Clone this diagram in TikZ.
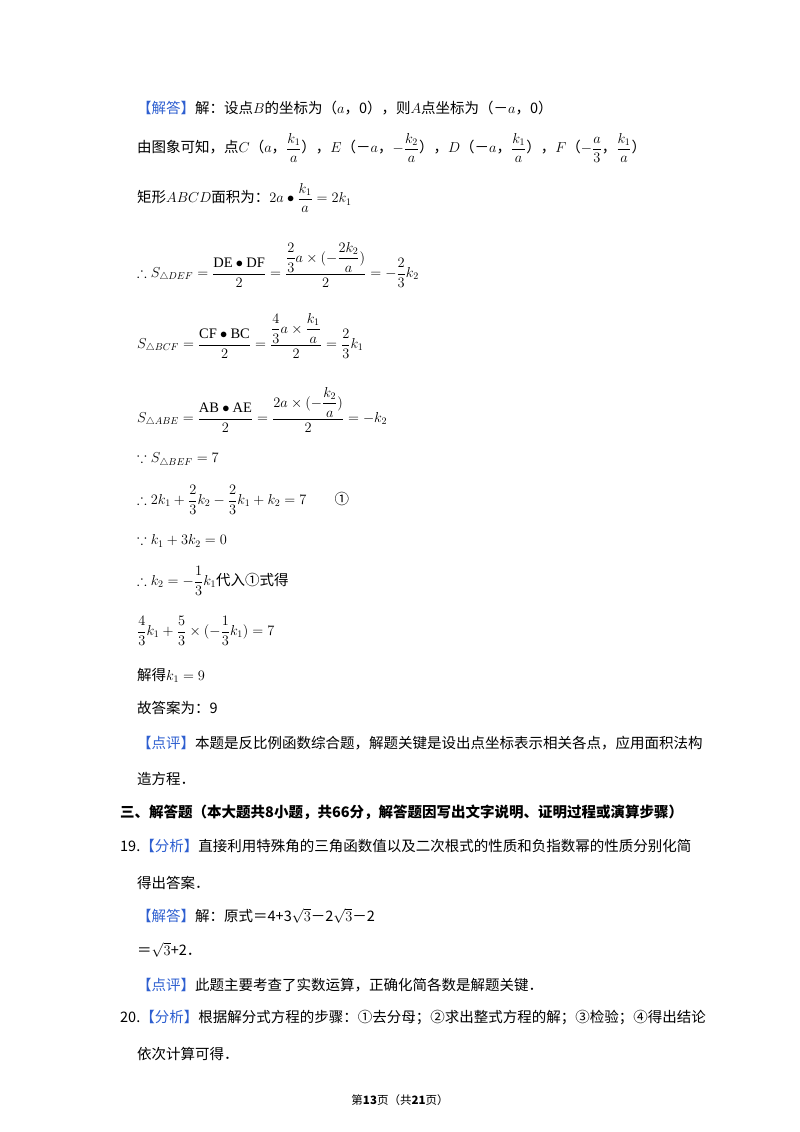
\documentclass[tikz,border=0pt]{standalone}
\usepackage{amsmath,amssymb}
\usepackage{fontspec}
\setmainfont{Liberation Serif}
\newfontfamily\cjk{Noto Sans CJK SC}
\definecolor{lb}{HTML}{2E5FD0}
\newcommand{\lab}[1]{{\color{lb}【#1】}}
\begin{document}
\begin{tikzpicture}[x=1pt,y=-1pt,
  t/.style={anchor=west,inner sep=0pt,font=\fontsize{14.5}{17}\cjk}]
\useasboundingbox (0,0) rectangle (800,1132);
\node[t] (l1) at (137,108) {\lab{解答}解：设点$B$的坐标为（$a$，0），则$A$点坐标为（－$a$，0）};
\node[t] (l2) at (137,148) {由图象可知，点$C$（$a$，$\dfrac{k_1}{a}$），$E$（－$a$，$-\dfrac{k_2}{a}$），$D$（－$a$，$\dfrac{k_1}{a}$），$F$（$-\dfrac{a}{3}$，$\dfrac{k_1}{a}$）};
\node[t] (l3) at (137,198) {矩形$ABCD$面积为：$2a\bullet\dfrac{k_1}{a}=2k_1$};
\node[t] (l4) at (137,265) {$\therefore S_{\triangle DEF}=\dfrac{\mathrm{DE}\bullet\mathrm{DF}}{2}=\dfrac{\dfrac{2}{3}a\times(-\dfrac{2k_2}{a})}{2}=-\dfrac{2}{3}k_2$};
\node[t] (l5) at (137,336) {$S_{\triangle BCF}=\dfrac{\mathrm{CF}\bullet\mathrm{BC}}{2}=\dfrac{\dfrac{4}{3}a\times\dfrac{k_1}{a}}{2}=\dfrac{2}{3}k_1$};
\node[t] (l6) at (137,410) {$S_{\triangle ABE}=\dfrac{\mathrm{AB}\bullet\mathrm{AE}}{2}=\dfrac{2a\times(-\dfrac{k_2}{a})}{2}=-k_2$};
\node[t] (l7) at (137,460) {$\because S_{\triangle BEF}=7$};
\node[t] (l8) at (137,500) {$\therefore 2k_1+\dfrac{2}{3}k_2-\dfrac{2}{3}k_1+k_2=7$\hspace{28pt}①};
\node[t] (l9) at (137,541) {$\because k_1+3k_2=0$};
\node[t] (l10) at (137,581) {$\therefore k_2=-\dfrac{1}{3}k_1$代入①式得};
\node[t] (l11) at (137,631) {$\dfrac{4}{3}k_1+\dfrac{5}{3}\times(-\dfrac{1}{3}k_1)=7$};
\node[t] (l12) at (137,675) {解得$k_1=9$};
\node[t] (l13) at (137,708) {故答案为：9};
\node[t] (l14) at (137,743) {\lab{点评}本题是反比例函数综合题，解题关键是设出点坐标表示相关各点，应用面积法构};
\node[t] (l15) at (137,779) {造方程．};
\node[t,font=\fontsize{14.5}{17}\cjk\bfseries] (l16) at (120,812) {三、解答题（本大题共8小题，共66分，解答题因写出文字说明、证明过程或演算步骤）};
\node[t] (l17) at (120,846) {19.\lab{分析}直接利用特殊角的三角函数值以及二次根式的性质和负指数幂的性质分别化简};
\node[t] (l18) at (137,883) {得出答案．};
\node[t] (l19) at (137,916) {\lab{解答}解：原式＝4+3$\sqrt{3}$－2$\sqrt{3}$－2};
\node[t] (l20) at (137,950) {＝$\sqrt{3}$+2．};
\node[t] (l21) at (137,985) {\lab{点评}此题主要考查了实数运算，正确化简各数是解题关键．};
\node[t] (l22) at (120,1018) {20.\lab{分析}根据解分式方程的步骤：①去分母；②求出整式方程的解；③检验；④得出结论};
\node[t] (l23) at (137,1054) {依次计算可得．};
\node[anchor=center,inner sep=0pt,font=\fontsize{11.5}{14}\cjk] (ft) at (400,1100) {第\textbf{13}页（共\textbf{21}页）};
\end{tikzpicture}
\end{document}
